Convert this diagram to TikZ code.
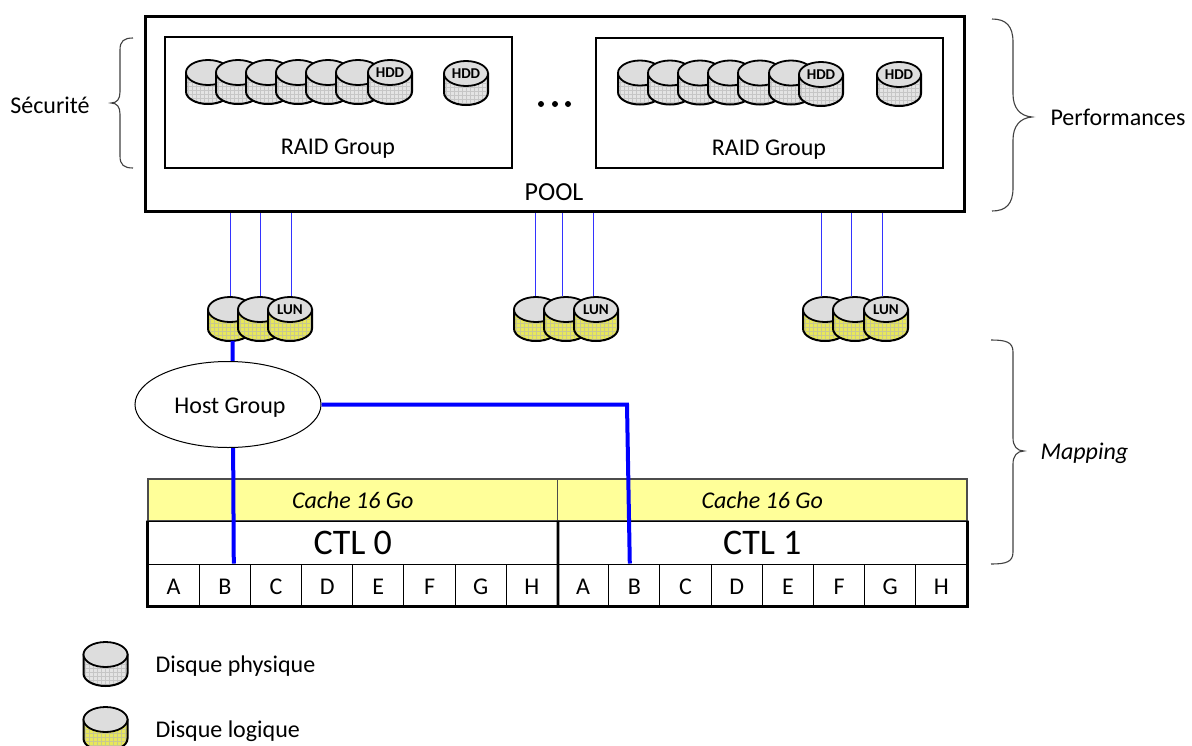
\documentclass[tikz,border=0pt]{standalone}
\usepackage{fontspec}
\setmainfont{Carlito}
\usetikzlibrary{shapes.geometric}
\definecolor{diskgray}{HTML}{DDDDDD}
\definecolor{hddbody}{HTML}{E4E4E4}
\definecolor{hddgrid}{HTML}{C6C6C6}
\definecolor{lunbody}{HTML}{E8E85A}
\definecolor{lungrid}{HTML}{C8C890}
\definecolor{cacheyellow}{HTML}{FFFF99}
\definecolor{linkblue}{HTML}{0000FF}
\newcommand{\diskbody}{(-22,-9.5) -- (-22,9.5) .. controls (-22,16.4) and (-12.2,22) .. (0,22) .. controls (12.2,22) and (22,16.4) .. (22,9.5) -- (22,-9.5) -- cycle}
\newcommand{\disk}[5]{
    \begin{scope}[shift={(#2,#3)}]
        \begin{scope}
            \clip \diskbody;
            \fill[#4body] (-22,-22) rectangle (22,22);
            \draw[#4grid,line width=0.9pt,step=4pt] (-22,-22) grid (22,22);
        \end{scope}
        \draw[line width=2pt] \diskbody;
        \node[diskface] (#1) at (0,-9.5) {#5};
        \coordinate (#1base) at (0,22);
    \end{scope}
}
\begin{document}
\begin{tikzpicture}[x=1pt,y=-1pt,
        diskface/.style={ellipse,draw,line width=1.8pt,fill=diskgray,minimum width=44pt,minimum height=25pt,inner sep=0pt,font=\fontsize{15}{16}\selectfont\bfseries},
        txt/.style={font=\fontsize{24}{28}\selectfont},
        cachebox/.style={draw=black!70,line width=1.2pt,fill=cacheyellow,minimum width=409.5pt,minimum height=42pt,inner sep=0pt,text height=20pt,text depth=4pt,font=\fontsize{24}{28}\selectfont\itshape},
        ctlbox/.style={draw,line width=0.8pt,minimum width=409.5pt,minimum height=43pt,inner sep=0pt,font=\fontsize{36}{40}\selectfont},
        portbox/.style={draw,line width=1pt,minimum width=51.2pt,minimum height=42pt,inner sep=0pt,text height=23pt,text depth=4pt,font=\fontsize{24}{28}\selectfont},
        raidbox/.style={draw,line width=1.6pt,minimum width=347pt,minimum height=130.5pt,inner sep=0pt},
        lunlink/.style={draw=linkblue!80,line width=1pt},
        hostlink/.style={draw=linkblue,line width=4pt},
        frameline/.style={line width=2.8pt},
        bracket/.style={draw=black!75,line width=1.1pt}]
    \useasboundingbox (0,0) rectangle (1192,745);

    \node[draw,line width=3pt,minimum width=819pt,minimum height=195pt,inner sep=0pt] (pool) at (554.5,113.5) {};
    \node[font=\fontsize{26}{30}\selectfont] (pooltext) at (554,192) {POOL};
    \node[raidbox] (raid1) at (338.5,102.5) {};
    \node[raidbox] (raid2) at (769.5,103) {};
    \node[txt] (raid1text) at (338,149) {RAID Group};
    \node[txt] (raid2text) at (769,150) {RAID Group};

    \foreach \x [count=\i] in {208,238,268,298,328,358} {
        \disk{hdda\i}{\x}{82}{hdd}{}
    }
    \disk{hdda7}{390}{82}{hdd}{HDD}
    \disk{hdda8}{466}{83}{hdd}{HDD}
    \foreach \x [count=\i] in {640,670,700,730,760,791} {
        \disk{hddb\i}{\x}{82.5}{hdd}{}
    }
    \disk{hddb7}{821}{84}{hdd}{HDD}
    \disk{hddb8}{899}{84}{hdd}{HDD}

    \foreach \x in {541,555,568}
        \fill (\x,104) circle (3);

    \disk{luna1}{230}{319}{lun}{}
    \disk{luna2}{260}{319}{lun}{}
    \disk{luna3}{290}{319}{lun}{LUN}
    \disk{lunb1}{536}{319}{lun}{}
    \disk{lunb2}{566}{319}{lun}{}
    \disk{lunb3}{596}{319}{lun}{LUN}
    \disk{lunc1}{825}{319}{lun}{}
    \disk{lunc2}{855}{319}{lun}{}
    \disk{lunc3}{886}{319}{lun}{LUN}

    \foreach \name/\dx in {luna1/0pt,luna2/0pt,luna3/1pt,lunb1/-1pt,lunb2/-4pt,lunb3/-3pt,lunc1/-4pt,lunc2/-4pt,lunc3/-4pt}
        \draw[lunlink] ([xshift=\dx]\name.north) -- ([xshift=\dx]\name.north |- pool.south);

    \node[cachebox] (cache0) at (352.75,500) {Cache 16 Go};
    \node[cachebox] (cache1) at (762.25,500) {Cache 16 Go};
    \node[ctlbox] (ctl0) at (352.75,542.5) {CTL 0};
    \node[ctlbox] (ctl1) at (762.25,542.5) {CTL 1};
    \foreach \l [count=\i] in {A,B,C,D,E,F,G,H} {
        \node[portbox] (ctl0\l) at ({148+51.19*(\i-.5)},585) {\l};
        \node[portbox] (ctl1\l) at ({557.5+51.19*(\i-.5)},585) {\l};
    }
    \draw[frameline] (ctl0.north west) -- (ctl0A.south west) -- (ctl1H.south east) -- (ctl1.north east);
    \draw[frameline] (ctl0.north east) -- (ctl0H.south east);

    \draw[hostlink] ([xshift=2.5pt]luna1base) -- ([xshift=9pt]ctl0B.north);
    \node[draw,ellipse,line width=1pt,fill=white,minimum width=186pt,minimum height=86pt,inner sep=0pt,text height=22pt,text depth=4pt,txt] (hostgroup) at (228,404.5) {\hspace*{4pt}Host Group};
    \coordinate (hostbend) at (627,404.5);
    \draw[hostlink] (hostgroup.east) -- (hostbend) -- ([xshift=-4.5pt]ctl1B.north);

    \coordinate (secua) at (133,38);
    \coordinate (secub) at (133,168);
    \coordinate (secutip) at (111,103);
    \draw[bracket] (secua) .. controls (124,38) and (120,41) .. (120,50) -- (120,92) .. controls (120,99) and (117,103) .. (secutip) .. controls (117,103) and (120,107) .. (120,114) -- (120,156) .. controls (120,165) and (124,168) .. (secub);
    \coordinate (perfa) at (992,19);
    \coordinate (perfb) at (992,211);
    \coordinate (perftip) at (1032,117);
    \draw[bracket] (perfa) .. controls (1006,19) and (1013,26) .. (1013,42) -- (1013,94) .. controls (1013,108) and (1020,116) .. (perftip) .. controls (1020,118) and (1013,126) .. (1013,140) -- (1013,188) .. controls (1013,204) and (1006,211) .. (perfb);
    \coordinate (mapa) at (991,340);
    \coordinate (mapb) at (991,564);
    \coordinate (maptip) at (1024,451);
    \draw[bracket] (mapa) .. controls (1006,340) and (1013,342) .. (1013,352) -- (1013,438) .. controls (1013,446) and (1017,451) .. (maptip) .. controls (1017,451) and (1013,456) .. (1013,464) -- (1013,552) .. controls (1013,562) and (1006,564) .. (mapb);

    \node[txt] (secutext) at (50,105) {Sécurité};
    \node[txt,anchor=west] (perftext) at (1047,117) {Performances};
    \node[anchor=west,font=\fontsize{24}{28}\selectfont\itshape] (maptext) at (1037,453) {Mapping};

    \disk{legendhdd}{105.5}{664}{hdd}{}
    \disk{legendlun}{105.5}{729}{lun}{}
    \node[txt,anchor=west] (hddtext) at (152,666) {Disque physique};
    \node[txt,anchor=west] (luntext) at (152,731) {Disque logique};
\end{tikzpicture}
\end{document}
